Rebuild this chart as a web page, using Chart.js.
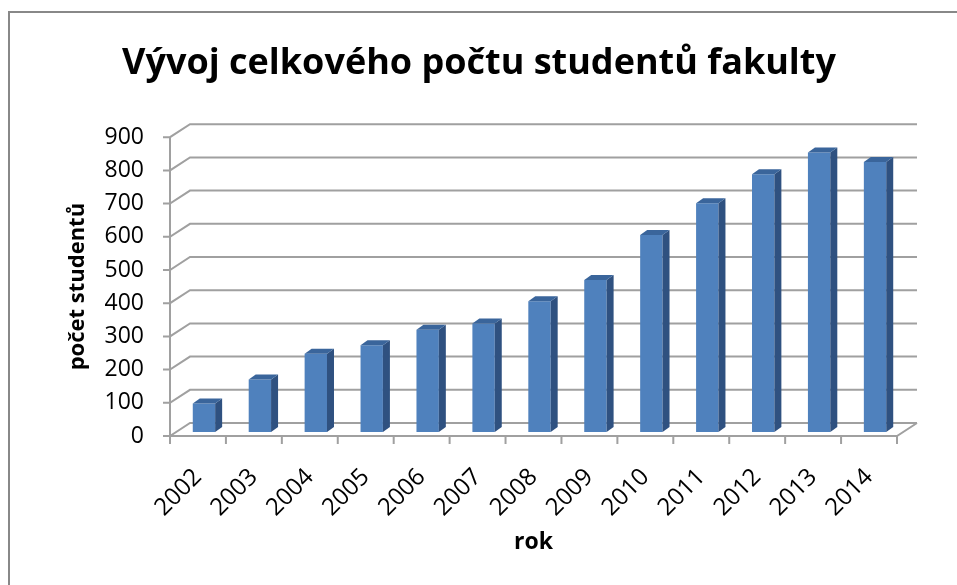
<!DOCTYPE html>
<html>
<head>
<meta charset="utf-8">
<script src="https://cdn.jsdelivr.net/npm/chart.js@4.4.0/dist/chart.umd.min.js"></script>
<style>
    html, body { margin: 0; padding: 0; background: #fff; }
    #wrap { position: relative; width: 957px; height: 585px; overflow: hidden; }
    #frame { position: absolute; left: 8px; top: 11px; right: -4px; bottom: -4px;
             border-left: 2px solid #888; border-top: 2px solid #888; }
    #chart { position: absolute; left: 0; top: 0; }
</style>
</head>
<body>
<div id="wrap">
    <div id="frame"></div>
    <canvas id="chart" width="957" height="585"></canvas>
</div>
<script>
// data
const years = ['2002', '2003', '2004', '2005', '2006', '2007', '2008', '2009', '2010', '2011', '2012', '2013', '2014'];
const students = [86, 158, 236, 261, 308, 327, 394, 458, 593, 689, 776, 842, 813];
const yTicks = [0, 100, 200, 300, 400, 500, 600, 700, 800, 900];

const GRID = '#a0a0a0';
const DEPTH_X = 20, DEPTH_Y = 13;     // back wall offset
const BAR_DX = 7, BAR_DY = 5;         // bar depth
const BAR_SHIFT_X = 6, BAR_SHIFT_Y = -4;

// back wall gridlines, floor and axis ticks like the excel 3d column chart
const walls = {
    id: 'walls',
    beforeDatasetsDraw(chart) {
        const ctx = chart.ctx;
        const y = chart.scales.y;
        const L = chart.chartArea.left, R = chart.chartArea.right;
        const y0 = y.getPixelForValue(0);
        ctx.save();
        ctx.strokeStyle = GRID;
        ctx.lineWidth = 2;
        ctx.beginPath();
        yTicks.forEach(v => {
            const py = y.getPixelForValue(v);
            ctx.moveTo(L - 7, py);
            ctx.lineTo(L, py);
            ctx.lineTo(L + DEPTH_X, py - DEPTH_Y);
            ctx.lineTo(R + DEPTH_X, py - DEPTH_Y);
        });
        // left axis
        ctx.moveTo(L, y.getPixelForValue(yTicks[yTicks.length - 1]));
        ctx.lineTo(L, y0);
        // floor front + right edge
        ctx.moveTo(L, y0);
        ctx.lineTo(R, y0);
        ctx.lineTo(R + DEPTH_X, y0 - DEPTH_Y);
        // category tick marks
        const w = (R - L) / years.length;
        for (let i = 0; i <= years.length; i++) {
            const px = L + i * w;
            ctx.moveTo(px, y0);
            ctx.lineTo(px, y0 + 8);
        }
        ctx.stroke();
        ctx.restore();
    },
    beforeDatasetDraw(chart) {
        chart.ctx.save();
        chart.ctx.translate(BAR_SHIFT_X, BAR_SHIFT_Y);
    },
    afterDatasetDraw(chart, args) {
        const ctx = chart.ctx;
        args.meta.data.forEach(bar => {
            const p = bar.getProps(['x', 'y', 'base', 'width'], true);
            const x1 = p.x + p.width / 2, x0 = p.x - p.width / 2;
            // side
            ctx.fillStyle = '#2f5180';
            ctx.beginPath();
            ctx.moveTo(x1, p.y);
            ctx.lineTo(x1 + BAR_DX, p.y - BAR_DY);
            ctx.lineTo(x1 + BAR_DX, p.base - BAR_DY);
            ctx.lineTo(x1, p.base);
            ctx.closePath();
            ctx.fill();
            // top
            ctx.fillStyle = '#3a659b';
            ctx.beginPath();
            ctx.moveTo(x0, p.y);
            ctx.lineTo(x0 + BAR_DX, p.y - BAR_DY);
            ctx.lineTo(x1 + BAR_DX, p.y - BAR_DY);
            ctx.lineTo(x1, p.y);
            ctx.closePath();
            ctx.fill();
        });
        ctx.restore();
    }
};

new Chart(document.getElementById('chart'), {
    type: 'bar',
    data: {
        labels: years,
        datasets: [{
            data: students,
            backgroundColor: '#4f81bd',
            borderWidth: 0,
            barPercentage: 0.4,
            categoryPercentage: 1.0
        }]
    },
    options: {
        responsive: false,
        animation: false,
        devicePixelRatio: 1,
        layout: { padding: { left: 61, right: 60, top: 0, bottom: 25 } },
        plugins: {
            legend: { display: false },
            tooltip: { enabled: false },
            title: {
                display: true,
                text: 'Vývoj celkového počtu studentů fakulty',
                color: '#000',
                font: { family: 'Open Sans', size: 36, weight: 'bold' },
                padding: { top: 42, bottom: 52 }
            }
        },
        scales: {
            x: {
                grid: { display: false, drawTicks: false },
                border: { display: false },
                ticks: {
                    color: '#000',
                    autoSkip: false,
                    font: { family: 'Open Sans', size: 24 },
                    minRotation: 45,
                    maxRotation: 45,
                    padding: 27
                },
                title: {
                    display: true,
                    text: 'rok',
                    color: '#000',
                    font: { family: 'Open Sans', size: 23, weight: 'bold' }
                },
                afterFit(scale) { scale.height = 124; }
            },
            y: {
                min: 0,
                max: 900,
                grid: { display: false, drawTicks: false },
                border: { display: false },
                ticks: {
                    color: '#000',
                    autoSkip: false,
                    stepSize: 100,
                    font: { family: 'Open Sans', size: 23 },
                    padding: 26
                },
                title: {
                    display: true,
                    text: 'počet studentů',
                    color: '#000',
                    font: { family: 'Open Sans', size: 22, weight: 'bold' }
                },
                afterFit(scale) { scale.width = 109; }
            }
        }
    },
    plugins: [walls]
});
</script>
</body>
</html>
